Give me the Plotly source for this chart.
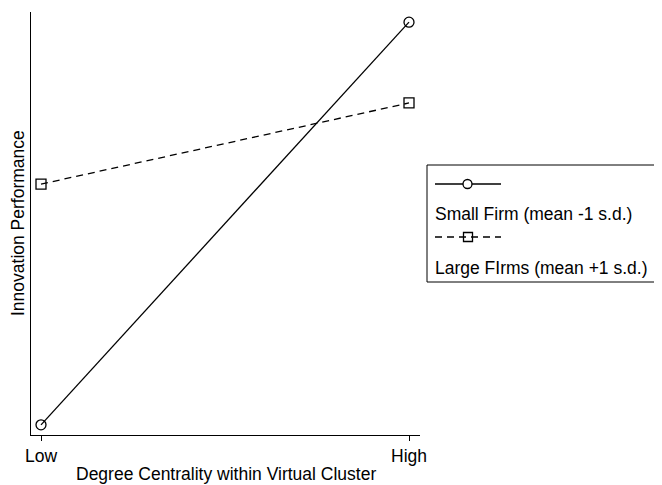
import plotly.graph_objects as go

x_levels = [0, 1]
tick_labels = ["Low", "High"]
small_firm = [2.4, 97.6]
large_firm = [59.3, 78.5]
series_names = ["Small Firm (mean -1 s.d.)", "Large FIrms (mean +1 s.d.)"]

OFF = 8  # default page body margin in the browser
W, H = 662 - OFF, 485 - OFF
PL, PR, PT, PB = 31, 420, 12, 435  # plot area in page pixels
FS = 17.5

fig = go.Figure()
fig.add_trace(go.Scatter(x=x_levels, y=small_firm, mode="lines+markers",
                         line=dict(color="black", width=1.3),
                         marker=dict(symbol="circle-open", size=10, color="black", line=dict(width=1.3)),
                         showlegend=False))
fig.add_trace(go.Scatter(x=x_levels, y=large_firm, mode="lines+markers",
                         line=dict(color="black", width=1.3, dash="7px,5px"),
                         marker=dict(symbol="square-open", size=10, color="black", line=dict(width=1.3)),
                         showlegend=False))


def px(x):
    return (x - PL) / (PR - PL)


def py(y):
    return (PB - y) / (PB - PT)


shapes = []
# legend box
shapes.append(dict(type="rect", xref="paper", yref="paper", x0=px(427), x1=px(661.5), y0=py(282), y1=py(165),
                   line=dict(color="black", width=1), fillcolor="white", layer="above"))
# sample line 1
shapes.append(dict(type="line", xref="paper", yref="paper", x0=px(435), x1=px(501), y0=py(184), y1=py(184),
                   line=dict(color="black", width=1.3)))
shapes.append(dict(type="circle", xref="paper", yref="paper", x0=px(463), x1=px(472), y0=py(188.5), y1=py(179.5),
                   line=dict(color="black", width=1.3), fillcolor="white"))
# sample line 2
shapes.append(dict(type="line", xref="paper", yref="paper", x0=px(435), x1=px(501), y0=py(237), y1=py(237),
                   line=dict(color="black", width=1.3, dash="7px,5px")))
shapes.append(dict(type="rect", xref="paper", yref="paper", x0=px(463.5), x1=px(472.5), y0=py(241.5), y1=py(232.5),
                   line=dict(color="black", width=1.3), fillcolor="rgba(0,0,0,0)"))

annotations = [
    dict(text=series_names[0], xref="paper", yref="paper", x=px(433), y=py(214), xanchor="left", yanchor="middle",
         showarrow=False, font=dict(size=FS, color="black")),
    dict(text=series_names[1], xref="paper", yref="paper", x=px(433), y=py(268), xanchor="left", yanchor="middle",
         showarrow=False, font=dict(size=FS, color="black")),
    dict(text="Degree Centrality within Virtual Cluster", xref="paper", yref="paper", x=px(226), y=py(474),
         xanchor="center", yanchor="middle", showarrow=False, font=dict(size=FS, color="black")),
    dict(text="Innovation Performance", xref="paper", yref="paper", x=px(18), y=py(223), textangle=-90,
         xanchor="center", yanchor="middle", showarrow=False, font=dict(size=FS, color="black")),
]

fig.update_layout(
    width=W, height=H,
    margin=dict(l=PL - OFF, r=662 - PR, t=PT - OFF, b=485 - PB, autoexpand=False),
    paper_bgcolor="white", plot_bgcolor="white",
    font=dict(family="Liberation Sans, Arial, Helvetica, sans-serif", color="black", size=FS),
    shapes=shapes, annotations=annotations,
    xaxis=dict(range=[-10 / 368, 1 + 11 / 368], tickvals=x_levels, ticktext=tick_labels, automargin=False,
               showgrid=False, zeroline=False, showline=True, linecolor="black", linewidth=1,
               ticks="outside", ticklen=5, tickcolor="black", tickfont=dict(size=FS)),
    yaxis=dict(range=[0, 100], showticklabels=False, ticks="", showgrid=False, zeroline=False, automargin=False,
               showline=True, linecolor="black", linewidth=1),
)

fig.write_html("out.html")
